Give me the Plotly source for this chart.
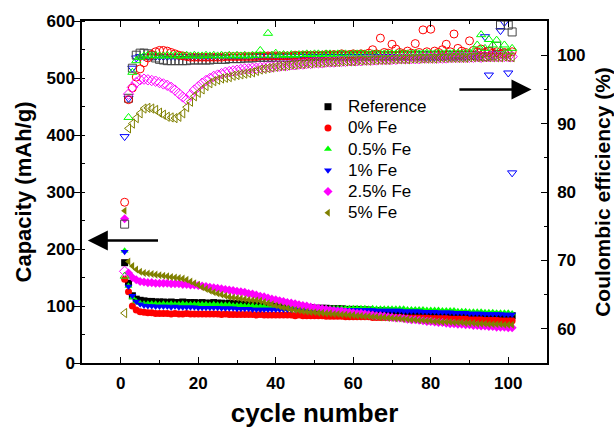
import plotly.graph_objects as go

cycles = list(range(1, 102))

series_names = ["Reference", "0% Fe", "0.5% Fe", "1% Fe", "2.5% Fe", "5% Fe"]
colors = ["#000000", "#ff0000", "#00ff00", "#0000ff", "#ff00ff", "#808000"]
symbols = ["square", "circle", "triangle-up", "triangle-down", "diamond", "triangle-left"]
open_line_colors = ["#444444", "#ff0000", "#00ff00", "#0000ff", "#ff00ff", "#808000"]

# Capacity (mAh/g), cycles 1..101
cap_ref = [176, 140, 118, 112, 110, 109, 108, 108, 107, 107,
           107, 106, 107, 106, 106, 107, 106, 106, 106, 105,
           106, 105, 105, 106, 105, 105, 104, 105, 104, 104,
           103, 103, 102, 102, 101, 101, 100, 100, 100, 99,
           99, 99, 98, 98, 98, 97, 97, 97, 97, 96,
           96, 96, 96, 95, 95, 95, 95, 94, 94, 94,
           94, 93, 93, 93, 92, 92, 92, 91, 91, 91,
           90, 90, 90, 89, 89, 89, 88, 88, 88, 88,
           87, 87, 87, 87, 86, 86, 86, 86, 85, 85,
           85, 85, 85, 84, 84, 84, 84, 83, 83, 83, 83]
cap_0 = [147, 125, 100, 93, 90, 89, 88, 88, 87, 87,
         87, 87, 86, 87, 86, 86, 87, 86, 86, 86,
         86, 86, 86, 86, 86, 85, 86, 85, 85, 85,
         85, 85, 85, 85, 84, 85, 84, 84, 84, 84,
         84, 84, 84, 84, 83, 84, 83, 83, 83, 83,
         83, 83, 82, 82, 82, 82, 82, 81, 81, 81,
         81, 81, 81, 81, 80, 80, 80, 80, 80, 80,
         80, 80, 79, 79, 79, 79, 79, 79, 79, 78,
         78, 78, 78, 78, 77, 77, 77, 77, 77, 76,
         76, 76, 76, 75, 75, 75, 75, 74, 74, 74, 74]
cap_05 = [197, 135, 115, 108, 105, 104, 104, 104, 104, 103,
          104, 103, 104, 103, 103, 104, 103, 103, 103, 103,
          103, 103, 102, 103, 102, 102, 102, 102, 101, 101,
          101, 100, 100, 100, 99, 99, 99, 98, 98, 98,
          98, 97, 97, 97, 97, 97, 96, 96, 96, 96,
          96, 96, 96, 96, 96, 96, 96, 96, 96, 96,
          96, 96, 96, 95, 96, 95, 95, 95, 95, 95,
          95, 95, 95, 94, 94, 94, 94, 94, 93, 93,
          93, 93, 92, 92, 92, 92, 91, 91, 91, 90,
          90, 90, 90, 89, 89, 89, 88, 88, 88, 88, 87]
cap_1 = [195, 134, 118, 108, 103, 101, 100, 100, 99, 99,
         99, 99, 98, 99, 98, 98, 98, 98, 98, 97,
         97, 97, 97, 97, 97, 96, 96, 96, 96, 95,
         95, 95, 95, 94, 94, 94, 94, 94, 94, 94,
         94, 94, 94, 94, 94, 94, 94, 94, 94, 94,
         94, 94, 94, 94, 94, 94, 93, 93, 93, 93,
         93, 93, 93, 93, 93, 92, 92, 92, 92, 92,
         92, 92, 91, 91, 91, 91, 91, 90, 90, 90,
         90, 89, 89, 89, 89, 88, 88, 88, 88, 87,
         87, 87, 87, 86, 86, 86, 86, 86, 85, 85, 85]
cap_25 = [253, 158, 150, 146, 143, 142, 141, 141, 140, 140,
          140, 140, 139, 139, 139, 138, 138, 137, 137, 136,
          135, 134, 133, 132, 131, 130, 129, 128, 127, 126,
          125, 124, 122, 121, 119, 117, 116, 114, 112, 111,
          109, 108, 106, 105, 104, 102, 101, 100, 98, 97,
          96, 95, 94, 93, 92, 91, 91, 90, 89, 88,
          87, 87, 86, 85, 84, 83, 83, 82, 81, 80,
          79, 79, 78, 77, 76, 76, 75, 74, 73, 73,
          72, 71, 71, 70, 69, 69, 68, 68, 67, 67,
          66, 66, 65, 65, 64, 64, 63, 63, 63, 62, 62]
cap_5 = [267, 178, 170, 164, 160, 158, 157, 156, 155, 154,
         153, 152, 151, 150, 149, 148, 146, 143, 140, 137,
         133, 130, 127, 124, 122, 120, 118, 116, 115, 114,
         113, 112, 111, 110, 110, 109, 107, 105, 103, 101,
         99, 97, 96, 94, 93, 92, 91, 90, 89, 89,
         88, 88, 87, 87, 86, 86, 85, 85, 84, 84,
         83, 83, 82, 82, 81, 81, 80, 80, 79, 79,
         78, 78, 77, 77, 76, 76, 75, 75, 74, 74,
         73, 73, 72, 72, 72, 71, 71, 71, 70, 70,
         70, 69, 69, 69, 68, 68, 68, 68, 67, 67, 67]

# Coulombic efficiency (%), cycles 1..101
ce_ref = [75.3, 93.7, 98.1, 100.0, 100.3, 100.3, 100.2, 99.9, 99.6, 99.4,
          99.3, 99.2, 99.2, 99.2, 99.2, 99.2, 99.2, 99.3, 99.3, 99.3,
          99.3, 99.3, 99.3, 99.4, 99.4, 99.4, 99.4, 99.5, 99.5, 99.5,
          99.5, 99.6, 99.6, 99.6, 99.7, 99.7, 99.7, 99.7, 99.7, 99.7,
          99.7, 99.7, 99.7, 99.7, 99.8, 99.8, 99.8, 99.8, 99.8, 99.8,
          99.8, 99.8, 99.9, 99.9, 99.9, 99.9, 99.9, 99.9, 99.9, 99.9,
          99.9, 99.9, 99.9, 99.9, 99.9, 100.0, 99.9, 99.9, 99.9, 99.9,
          99.9, 99.9, 100.0, 99.9, 99.9, 100.0, 99.9, 100.0, 99.9, 100.0,
          99.9, 100.0, 99.9, 100.0, 100.0, 99.9, 100.0, 100.0, 99.9, 100.0,
          100.0, 99.9, 100.3, 99.8, 100.5, 100.0, 101.3, 104.4, 100.2, 104.4, 103.4]
ce_0 = [78.5, 93.5, 95.2, 96.8, 98.0, 98.9, 99.6, 100.1, 100.5, 100.7,
        100.7, 100.6, 100.4, 100.2, 100.0, 99.9, 99.8, 99.7, 99.7, 99.7,
        99.7, 99.7, 99.7, 99.7, 99.7, 99.7, 99.8, 99.8, 99.8, 99.8,
        99.8, 99.8, 99.8, 99.8, 99.8, 99.9, 99.9, 99.9, 99.9, 99.9,
        99.9, 99.9, 99.9, 99.9, 100.0, 99.9, 100.0, 100.0, 100.0, 100.0,
        100.0, 100.0, 100.1, 100.0, 100.1, 100.0, 100.2, 100.0, 100.1, 100.2,
        100.0, 100.2, 100.1, 100.3, 100.8, 100.2, 102.5, 100.4, 100.3, 101.6,
        100.9, 100.4, 100.2, 100.6, 100.3, 101.7, 100.4, 103.7, 100.5, 103.8,
        100.6, 100.4, 100.8, 101.6, 100.5, 103.1, 101.0, 100.6, 100.4, 102.1,
        100.7, 100.5, 100.9, 100.4, 100.6, 100.3, 100.5, 100.2, 100.4, 100.3, 100.5]
ce_05 = [67.7, 90.9, 97.5, 99.2, 99.7, 99.9, 100.0, 99.9, 100.0, 99.9,
         99.9, 100.0, 99.9, 100.0, 99.9, 99.9, 100.0, 99.9, 100.0, 99.9,
         99.9, 100.0, 99.9, 100.0, 99.9, 100.0, 99.9, 100.0, 99.9, 100.0,
         99.9, 100.0, 99.9, 100.0, 100.0, 100.7, 100.0, 103.2, 100.0, 100.3,
         100.0, 100.1, 100.0, 100.1, 100.0, 100.1, 100.1, 100.2, 100.1, 100.2,
         100.2, 100.1, 100.2, 100.2, 100.1, 100.2, 100.2, 100.2, 100.1, 100.2,
         100.2, 100.2, 100.2, 100.1, 100.2, 100.2, 100.2, 100.2, 100.2, 100.2,
         100.2, 100.3, 100.2, 100.2, 100.2, 100.3, 100.2, 100.2, 100.3, 100.2,
         100.2, 100.3, 100.2, 100.3, 100.2, 100.3, 100.3, 100.2, 100.3, 100.4,
         100.5, 101.5, 103.0, 101.0, 102.3, 101.5, 102.2, 100.8, 101.5, 100.5, 101.0]
ce_1 = [88.1, 93.7, 98.1, 99.6, 99.8, 99.8, 99.8, 99.8, 99.8, 99.8,
        99.8, 99.8, 99.8, 99.8, 99.8, 99.8, 99.8, 99.8, 99.8, 99.8,
        99.8, 99.8, 99.8, 99.8, 99.8, 99.8, 99.8, 99.8, 99.8, 99.8,
        99.8, 99.8, 99.8, 99.8, 99.8, 99.8, 99.8, 99.8, 99.8, 99.8,
        99.8, 99.8, 99.8, 99.8, 99.8, 99.8, 99.8, 99.8, 99.8, 99.8,
        99.8, 99.8, 99.8, 99.8, 99.8, 99.8, 99.8, 99.8, 99.8, 99.8,
        99.8, 99.8, 99.8, 99.8, 99.8, 99.8, 99.8, 99.8, 99.8, 99.8,
        99.8, 99.8, 99.8, 99.8, 99.8, 99.8, 99.8, 99.8, 99.8, 99.8,
        99.8, 99.8, 99.8, 99.8, 99.8, 99.8, 99.8, 99.8, 99.8, 99.8,
        99.9, 100.0, 100.0, 102.7, 97.1, 100.0, 100.3, 103.6, 104.8, 97.4, 82.8]
ce_25 = [68.4, 94.3, 95.3, 96.0, 96.4, 96.5, 96.4, 96.3, 96.2, 96.0,
         95.8, 95.6, 95.3, 94.9, 94.4, 93.9, 93.5, 94.2, 94.9, 95.4,
         95.9, 96.3, 96.6, 96.9, 97.1, 97.3, 97.5, 97.6, 97.7, 97.8,
         97.9, 98.0, 98.0, 98.1, 98.1, 98.2, 98.2, 98.3, 98.3, 98.4,
         98.4, 98.5, 98.5, 98.6, 98.6, 98.7, 98.7, 98.8, 98.8, 98.9,
         98.9, 98.9, 99.0, 99.0, 99.0, 99.1, 99.1, 99.1, 99.2, 99.2,
         99.2, 99.2, 99.3, 99.3, 99.3, 99.3, 99.4, 99.4, 99.4, 99.4,
         99.4, 99.5, 99.5, 99.5, 99.5, 99.5, 99.5, 99.6, 99.6, 99.6,
         99.6, 99.6, 99.6, 99.6, 99.7, 99.7, 99.7, 99.7, 99.7, 99.7,
         99.7, 99.8, 99.7, 99.8, 99.8, 99.8, 99.8, 99.8, 99.8, 99.8, 99.8]
ce_5 = [62.3, 89.3, 90.0, 90.8, 91.5, 92.2, 92.3, 92.2, 92.0, 91.6,
        91.3, 91.0, 90.9, 90.8, 91.0, 91.5, 92.4, 93.2, 94.0, 94.5,
        95.0, 95.5, 95.9, 96.2, 96.4, 96.6, 96.7, 96.8, 97.0, 97.1,
        97.2, 97.3, 97.4, 97.5, 97.7, 97.9, 98.0, 98.1, 98.2, 98.3,
        98.4, 98.4, 98.5, 98.6, 98.6, 98.7, 98.7, 98.8, 98.8, 98.9,
        98.9, 98.9, 99.0, 99.0, 99.0, 99.0, 99.1, 99.1, 99.1, 99.1,
        99.2, 99.2, 99.2, 99.2, 99.3, 99.3, 99.3, 99.3, 99.3, 99.4,
        99.4, 99.4, 99.4, 99.4, 99.5, 99.5, 99.5, 99.5, 99.5, 99.5,
        99.5, 99.6, 99.6, 99.6, 99.6, 99.6, 99.6, 99.6, 99.6, 99.7,
        99.7, 99.7, 99.7, 99.7, 99.7, 99.7, 99.7, 99.7, 99.8, 99.7, 99.7]

capacity = [cap_ref, cap_0, cap_05, cap_1, cap_25, cap_5]
efficiency = [ce_ref, ce_0, ce_05, ce_1, ce_25, ce_5]
ce_draw_order = [3, 0, 1, 2, 4, 5]

FONT = "Liberation Sans, Arial, sans-serif"

fig = go.Figure()

# Coulombic efficiency: open markers on right axis
for i in ce_draw_order:
    fig.add_trace(go.Scatter(
        x=cycles, y=efficiency[i], yaxis="y2", mode="markers",
        name=series_names[i] + " CE", showlegend=False,
        marker=dict(symbol=symbols[i] + "-open", size=8, color=open_line_colors[i],
                    line=dict(width=1, color=open_line_colors[i])),
        hoverinfo="skip"))

# Capacity: filled markers on left axis
for i in range(6):
    fig.add_trace(go.Scatter(
        x=cycles, y=capacity[i], yaxis="y", mode="markers",
        name='<span style="font-size:17px">' + series_names[i] + '</span>',
        marker=dict(symbol=symbols[i], size=7, color=colors[i], line=dict(width=0))))

tickfont = dict(family=FONT, size=17, color="black", weight="bold")

fig.update_layout(
    width=614, height=429,
    margin=dict(l=82, r=67, t=21, b=66),
    paper_bgcolor="white", plot_bgcolor="white",
    showlegend=True,
    legend=dict(x=0.486, y=0.795, xanchor="left", yanchor="top",
                bgcolor="rgba(0,0,0,0)", borderwidth=0,
                font=dict(family=FONT, size=14, color="black"),
                tracegroupgap=0, itemwidth=30),
    xaxis=dict(range=[-10, 110], tick0=0, dtick=20, ticks="inside", ticklen=6,
               tickwidth=1.2, tickcolor="black",
               minor=dict(dtick=10, ticks="inside", ticklen=3, tickcolor="black", tickwidth=1.2),
               showline=True, linecolor="black", linewidth=1.5, mirror="ticks",
               showgrid=False, zeroline=False, tickfont=tickfont, ticklabelstandoff=4,
               title=dict(text="cycle number", standoff=12,
                          font=dict(family=FONT, size=26, color="black", weight="bold")),
               automargin=False),
    yaxis=dict(range=[0, 600], tick0=0, dtick=100, ticks="outside", ticklen=6,
               tickwidth=1.2, tickcolor="black",
               minor=dict(dtick=50, ticks="inside", ticklen=3, tickcolor="black", tickwidth=1.2),
               showline=True, linecolor="black", linewidth=1.5,
               showgrid=False, zeroline=False, tickfont=tickfont, ticklabelstandoff=-4,
               title=dict(text="Capacity (mAh/g)", standoff=9,
                          font=dict(family=FONT, size=22, color="black", weight="bold")),
               automargin=False),
    yaxis2=dict(range=[55, 105], tick0=60, dtick=10, overlaying="y", side="right",
                ticks="inside", ticklen=6, tickwidth=1.2, tickcolor="black",
                minor=dict(dtick=5, ticks="inside", ticklen=3, tickcolor="black", tickwidth=1.2),
                showline=True, linecolor="black", linewidth=1.5,
                showgrid=False, zeroline=False, tickfont=tickfont, ticklabelstandoff=5,
                title=dict(text="Coulombic efficiency (%)", standoff=13,
                           font=dict(family=FONT, size=21, color="black", weight="bold")),
                automargin=False),
)

# Arrows indicating axes
fig.add_annotation(x=-8.5, y=215, xref="x", yref="y", ax=10, ay=215, axref="x", ayref="y",
                   text="", showarrow=True, arrowhead=2, arrowsize=1.6, arrowwidth=2.5,
                   arrowcolor="black")
fig.add_annotation(x=106, y=95, xref="x", yref="y2", ax=87, ay=95, axref="x", ayref="y2",
                   text="", showarrow=True, arrowhead=2, arrowsize=1.6, arrowwidth=2.5,
                   arrowcolor="black")

fig.write_html("out.html")
